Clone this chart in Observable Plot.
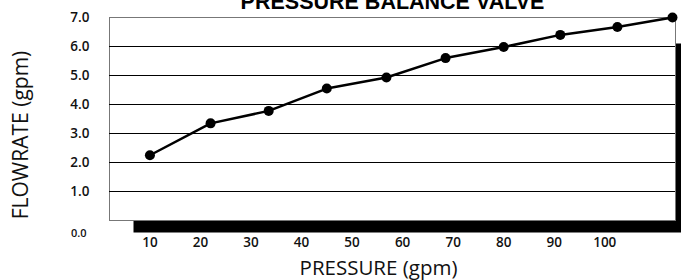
<!DOCTYPE html>
<html><head><meta charset="utf-8">
<script src="https://cdn.jsdelivr.net/npm/d3@7"></script>
<script src="https://cdn.jsdelivr.net/npm/@observablehq/plot@0.6"></script>
<style>body{margin:0;overflow:hidden;background:#fff}</style>
</head><body><div id="chart"></div>
<script>
const pressure = [10, 22, 33.5, 45, 56.8, 68.5, 80, 91.2, 102.5, 113.4];
const flowrate = [2.25, 3.35, 3.78, 4.55, 4.93, 5.6, 5.98, 6.4, 6.67, 7.0];
const xTicks = [10, 20, 30, 40, 50, 60, 70, 80, 90, 100];
const yTicks = [1, 2, 3, 4, 5, 6, 7];
const yZeroTick = [0];
const yGrid = [1, 2, 3, 4, 5, 6];
const title = "PRESSURE BALANCE VALVE";
const xLabel = "PRESSURE (gpm)";
const yLabel = "FLOWRATE (gpm)";

const data = pressure.map((p, i) => ({pressure: p, flowrate: flowrate[i]}));
const fmt = d => d.toFixed(1);

const plot = Plot.plot({
  width: 681, height: 280,
  marginLeft: 109, marginRight: 6, marginTop: 17, marginBottom: 60,
  style: {fontFamily: "'Open Sans', sans-serif", overflow: "hidden", background: "#fff", color: "#111"},
  x: {domain: [2, 114], axis: null},
  y: {domain: [0, 7], axis: null},
  marks: [
    Plot.frame({fill: "black", dx: 24, dy: 12, insetTop: 14}),
    Plot.frame({fill: "white", stroke: "#777", strokeWidth: 1}),
    Plot.ruleY(yGrid, {stroke: "black", strokeWidth: 1}),
    Plot.axisY(yTicks, {label: null, tickSize: 0, tickPadding: 20, fontSize: 13.5, fontWeight: 600, tickFormat: fmt}),
    Plot.axisY(yZeroTick, {label: null, tickSize: 0, tickPadding: 23, fontSize: 11, fontWeight: 600, dy: 13, tickFormat: fmt}),
    Plot.axisX(xTicks, {label: null, tickSize: 0, tickPadding: 17, fontSize: 13.5, fontWeight: 600}),
    Plot.line(data, {x: "pressure", y: "flowrate", stroke: "black", strokeWidth: 2.5}),
    Plot.dot(data, {x: "pressure", y: "flowrate", r: 5, fill: "black"}),
    Plot.text([title], {text: d => d, frameAnchor: "top", dy: -9, lineAnchor: "bottom", fontSize: 21.5, fontWeight: "bold", fontFamily: "'Liberation Sans', Arial, sans-serif", fill: "black"}),
    Plot.text([yLabel], {text: d => d, frameAnchor: "left", textAnchor: "middle", lineAnchor: "middle", dx: -88, dy: 16, rotate: -90, fontSize: 21, fontWeight: 400, fill: "#111"}),
    Plot.text([xLabel], {text: d => d, frameAnchor: "bottom", textAnchor: "middle", lineAnchor: "middle", dx: -14, dy: 48, fontSize: 20.5, fontWeight: 400, fill: "#111"})
  ]
});
document.getElementById("chart").append(plot);
</script>
</body></html>
